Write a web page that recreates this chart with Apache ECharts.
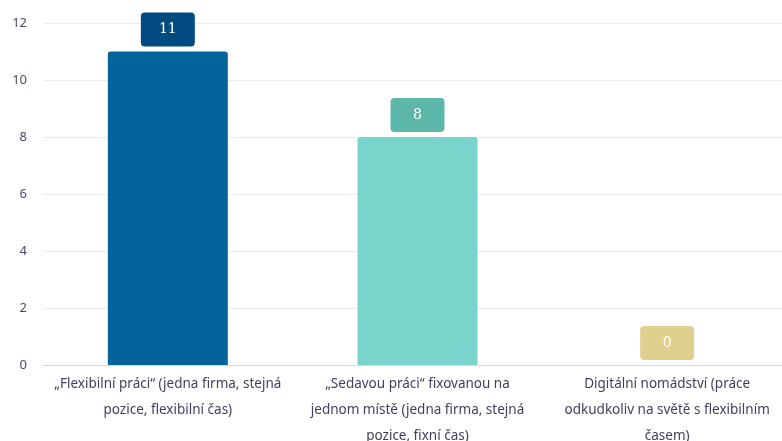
<!DOCTYPE html>
<html>
<head>
<meta charset="utf-8">
<script src="https://cdn.jsdelivr.net/npm/echarts@6/dist/echarts.min.js"></script>
<style>
  html, body { margin: 0; padding: 0; background: #ffffff; }
  #chart { width: 782px; height: 441px; }
</style>
</head>
<body>
<div id="chart"></div>
<script>
// Survey answers: preferred way of working
const categories = [
  '„Flexibilní práci“ (jedna firma, stejná\npozice, flexibilní čas)',
  '„Sedavou práci“ fixovanou na\njednom místě (jedna firma, stejná\npozice, fixní čas)',
  'Digitální nomádství (práce\nodkudkoliv na světě s flexibilním\nčasem)'
];
const values = [11, 8, 0];
const barColors = ['#03649c', '#79d5cb', '#e6d89c'];
const labelColors = ['#024b80', '#5db8aa', '#e0d08e'];
const yTicks = [0, 2, 4, 6, 8, 10, 12];

const chart = echarts.init(document.getElementById('chart'));
chart.setOption({
  animation: false,
  grid: { left: 43, right: -10, top: 23, bottom: 76, outerBoundsMode: 'none', containLabel: false },
  xAxis: {
    type: 'category',
    data: categories,
    axisTick: { show: false },
    axisLine: { lineStyle: { color: '#cfd9e6', width: 1 } },
    axisLabel: {
      interval: 0,
      color: '#3f3f5e',
      fontFamily: 'Noto Sans',
      fontSize: 13.5,
      lineHeight: 26,
      margin: 6
    }
  },
  yAxis: {
    type: 'value',
    min: yTicks[0],
    max: yTicks[yTicks.length - 1],
    interval: 2,
    axisLine: { show: false },
    axisTick: { show: false },
    splitLine: { lineStyle: { color: '#e9ecf0', width: 1 } },
    axisLabel: {
      color: '#4a4a68',
      fontFamily: 'Noto Sans',
      fontSize: 13,
      margin: 16
    }
  },
  series: [{
    type: 'bar',
    barWidth: 120,
    data: values.map((v, i) => ({
      value: v,
      itemStyle: { color: barColors[i], borderRadius: [3, 3, 0, 0] },
      label: { backgroundColor: labelColors[i] }
    })),
    label: {
      show: true,
      position: 'top',
      distance: 5,
      color: '#ffffff',
      fontFamily: 'DejaVu Serif',
      fontSize: 14,
      width: 54,
      height: 34,
      lineHeight: 34,
      align: 'center',
      padding: 0,
      borderRadius: 4
    }
  }]
});
</script>
</body>
</html>
